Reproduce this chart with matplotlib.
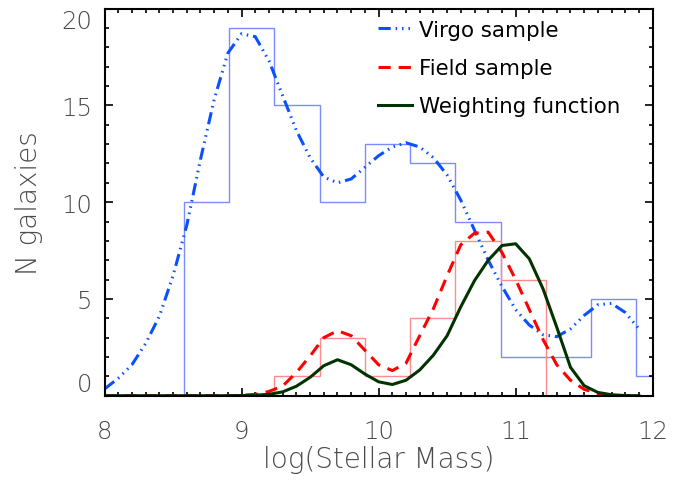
import matplotlib
matplotlib.use("Agg")
import matplotlib.pyplot as plt
from matplotlib.ticker import MultipleLocator

# ---- data ----
virgo_edges = [8.58, 8.91, 9.24, 9.57, 9.90, 10.23, 10.56, 10.89, 11.22, 11.55, 11.88, 12.21]
virgo_counts = [10, 19, 15, 10, 13, 12, 9, 2, 2, 5, 1]
field_edges = [9.24, 9.57, 9.90, 10.23, 10.56, 10.89, 11.22]
field_counts = [1, 3, 1, 4, 8, 6]

curve_x = [8.0, 8.1, 8.2, 8.3, 8.4, 8.5, 8.6, 8.7, 8.8, 8.9,
           9.0, 9.1, 9.2, 9.3, 9.4, 9.5, 9.6, 9.7, 9.8, 9.9,
           10.0, 10.1, 10.2, 10.3, 10.4, 10.5, 10.6, 10.7, 10.8, 10.9,
           11.0, 11.1, 11.2, 11.3, 11.4, 11.5, 11.6, 11.7, 11.8, 11.9]
virgo_curve = [0.35, 0.9, 1.6, 2.7, 4.1, 6.2, 8.8, 12.2, 15.3, 17.7,
               18.7, 18.55, 17.3, 15.5, 13.7, 12.3, 11.3, 11.0, 11.2, 11.8,
               12.4, 12.85, 13.07, 12.85, 12.3, 11.4, 10.1, 8.55, 7.0, 5.65,
               4.45, 3.65, 3.15, 3.05, 3.45, 4.15, 4.7, 4.77, 4.3, 3.45]
field_curve = [0, 0, 0, 0, 0, 0, 0, 0, 0, 0,
               0.02, 0.07, 0.22, 0.5, 1.2, 2.05, 3.0, 3.36, 3.1, 2.35,
               1.6, 1.3, 1.68, 3.1, 4.5, 6.2, 7.8, 8.4, 8.45, 7.4,
               6.0, 4.45, 2.9, 1.6, 0.8, 0.33, 0.12, 0.03, 0.0, 0.0]
weight_curve = [0, 0, 0, 0, 0, 0, 0, 0, 0, 0,
                0.01, 0.03, 0.07, 0.2, 0.49, 0.95, 1.55, 1.86, 1.6, 1.12,
                0.72, 0.58, 0.8, 1.33, 2.1, 3.1, 4.6, 5.95, 7.0, 7.76,
                7.85, 7.07, 5.52, 3.54, 1.47, 0.52, 0.17, 0.05, 0.01, 0.0]

labels = ["Virgo sample", "Field sample", "Weighting function"]
xticks = [8, 9, 10, 11, 12]
yticks = [0, 5, 10, 15, 20]

# ---- style ----
tick_font = {"family": ["DejaVu Sans"], "weight": 200, "size": 17.5}
label_font = {"family": ["DejaVu Sans"], "weight": 200, "size": 20}
gray = "#4a4a4a"

fig = plt.figure(figsize=(6.89, 4.85), dpi=100)
ax = fig.add_axes([0.1517, 0.182, 0.7956, 0.7982])

ax.stairs(virgo_counts, virgo_edges, color="#7b8cff", lw=1.0)
ax.stairs(field_counts, field_edges, color="#ff8c8c", lw=1.0)

l1, = ax.plot(curve_x, virgo_curve, color="#0a50ff", lw=2.2,
              linestyle=(0, (4, 1.6, 0.5, 1.6, 0.5, 1.6, 0.5, 1.6)))
l2, = ax.plot(curve_x, field_curve, color="#ff0000", lw=2.2,
              linestyle=(0, (4, 2.6)))
l3, = ax.plot(curve_x, weight_curve, color="#003300", lw=2.2)

ax.set_xlim(8, 12)
ax.set_ylim(0, 20)
ax.set_xticks(xticks)
ax.set_yticks(yticks)
ax.xaxis.set_minor_locator(MultipleLocator(0.1))
ax.yaxis.set_minor_locator(MultipleLocator(1))
ax.tick_params(which="both", direction="in", top=True, right=True, color="black", width=1.2)
ax.tick_params(which="major", length=6)
ax.tick_params(which="minor", length=3)
ax.tick_params(axis="x", which="major", pad=17)
ax.tick_params(axis="y", which="major", pad=9)
for s in ax.spines.values():
    s.set_linewidth(1.5)

ax.set_xticklabels([str(t) for t in xticks], fontdict=tick_font, color=gray)
ax.set_yticklabels([str(t) for t in yticks], fontdict=tick_font, color=gray)
ylabs = ax.get_yticklabels()
ylabs[0].set_va("bottom")
ylabs[-1].set_va("top")

ax.set_xlabel("log(Stellar Mass)", fontdict=label_font, color=gray, labelpad=1)
ax.set_ylabel("N galaxies", fontdict=label_font, color=gray, labelpad=13)

ax.legend([l1, l2, l3], labels, loc="upper left", bbox_to_anchor=(0.498, 0.971),
          frameon=False, borderpad=0, borderaxespad=0, handlelength=1.6,
          handletextpad=0.33, labelspacing=0.85,
          prop={"family": ["DejaVu Sans"], "size": 15.4})

fig.savefig("out.png", dpi=100)
